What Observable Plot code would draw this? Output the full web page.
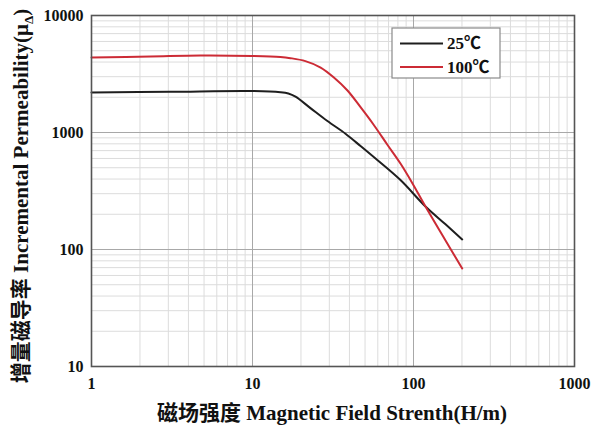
<!DOCTYPE html>
<html>
<head>
<meta charset="utf-8">
<script src="https://cdn.jsdelivr.net/npm/d3@7"></script>
<script src="https://cdn.jsdelivr.net/npm/@observablehq/plot@0.6"></script>
<style>
  html, body { margin: 0; padding: 0; background: #fff; }
  #chart { width: 591px; height: 428px; }
  svg { display: block; }
</style>
</head>
<body>
<div id="chart"></div>
<script>
// Data (H in A/m, incremental permeability)
const h25 = [1, 3.09, 10, 14.9, 16.7, 18.5, 22.9, 29.2, 37.8, 46.9, 58.1, 83, 118.7, 158.1, 200.7];
const mu25 = [2198, 2228, 2263, 2210, 2154, 2023, 1617, 1253, 976, 766, 599, 392, 233, 164, 122];
const h100 = [1, 2.33, 4.75, 10, 14.9, 17.2, 21.3, 26.5, 31.9, 38.9, 46.9, 56.4, 69, 83, 98.6, 118.7, 158.1, 200.7];
const mu100 = [4375, 4463, 4550, 4508, 4418, 4320, 4076, 3593, 2969, 2286, 1646, 1171, 782, 543, 367, 233, 119.4, 68.8];
const seriesNames = ["25℃", "100℃"];
const seriesColors = ["#1e1e1e", "#cc2b35"];

const xMajor = [1, 10, 100, 1000];
const yMajor = [10, 100, 1000, 10000];
const minorMult = [2, 3, 4, 5, 6, 7, 8, 9];
const xMinor = xMajor.slice(0, -1).flatMap(d => minorMult.map(m => d * m));
const yMinor = yMajor.slice(0, -1).flatMap(d => minorMult.map(m => d * m));

const rows = [
  ...h25.map((h, i) => ({h, mu: mu25[i], s: seriesNames[0]})),
  ...h100.map((h, i) => ({h, mu: mu100[i], s: seriesNames[1]}))
];

const serif = "'Liberation Serif', 'Times New Roman', 'Noto Sans CJK SC', serif";

const plot = Plot.plot({
  width: 591,
  height: 428,
  marginLeft: 91,
  marginRight: 17,
  marginTop: 15,
  marginBottom: 62,
  style: {fontFamily: serif, fontSize: "16px", fontWeight: "bold", color: "#111", background: "#fff"},
  x: {type: "log", domain: [1, 1000], ticks: xMajor, tickFormat: d => String(d), tickSize: 0, tickPadding: 11, label: null},
  y: {type: "log", domain: [10, 10000], ticks: yMajor, tickFormat: d => String(d), tickSize: 0, tickPadding: 8, label: null},
  color: {domain: seriesNames, range: seriesColors},
  marks: [
    Plot.ruleX(xMinor, {stroke: "#dcdcdc", strokeWidth: 1}),
    Plot.ruleY(yMinor, {stroke: "#dcdcdc", strokeWidth: 1}),
    Plot.ruleX(xMajor, {stroke: "#a8a8a8", strokeWidth: 1}),
    Plot.ruleY(yMajor, {stroke: "#a8a8a8", strokeWidth: 1}),
    Plot.line(rows, {x: "h", y: "mu", z: "s", stroke: "s", strokeWidth: 2, curve: "catmull-rom"}),
    Plot.frame({stroke: "#555", strokeWidth: 1.6})
  ]
});

document.getElementById("chart").appendChild(plot);

const svg = d3.select(plot);

// Y axis label with subscript
const yl = svg.append("text")
  .attr("transform", "translate(28,196) rotate(-90)")
  .attr("text-anchor", "middle")
  .style("font-family", serif)
  .style("font-size", "21px")
  .style("font-weight", "bold")
  .attr("fill", "#111");
yl.append("tspan").text("增量磁导率 Incremental Permeability(μ");
yl.append("tspan").attr("dy", 5).style("font-size", "13px").text("Δ");
yl.append("tspan").attr("dy", -5).text(")");

// X axis label
svg.append("text")
  .attr("x", 332).attr("y", 420)
  .attr("text-anchor", "middle")
  .style("font-family", serif)
  .style("font-size", "21px")
  .style("font-weight", "bold")
  .attr("fill", "#111")
  .text("磁场强度 Magnetic Field Strenth(H/m)");

// Legend
const lg = svg.append("g");
lg.append("rect").attr("x", 392).attr("y", 28).attr("width", 108).attr("height", 50)
  .attr("fill", "#fff").attr("stroke", "#8a8a8a").attr("stroke-width", 1.2);
seriesNames.forEach((name, i) => {
  const yy = 43.5 + i * 23.5;
  lg.append("line").attr("x1", 400).attr("x2", 443).attr("y1", yy).attr("y2", yy)
    .attr("stroke", seriesColors[i]).attr("stroke-width", 2);
  lg.append("text").attr("x", 447).attr("y", yy + 5.5)
    .attr("text-anchor", "start")
    .style("font-family", serif).style("font-size", "17px").style("font-weight", "bold")
    .attr("fill", "#111").text(name);
});
</script>
</body>
</html>
